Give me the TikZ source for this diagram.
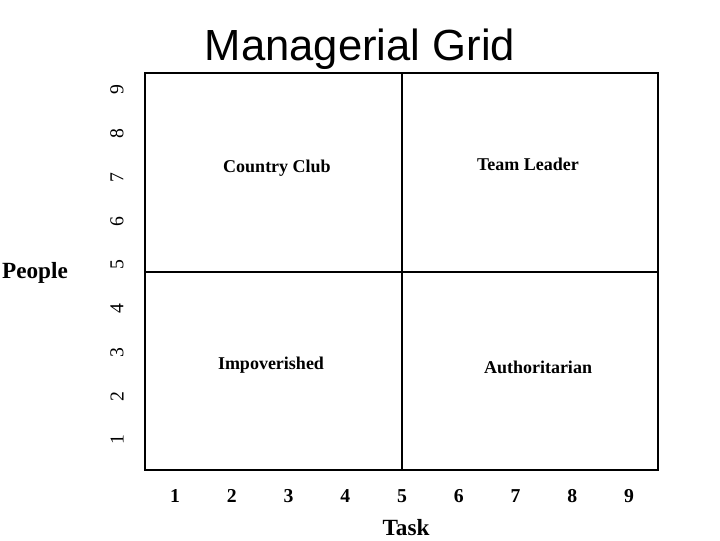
\documentclass[tikz,border=0pt]{standalone}
\usepackage{fontspec}
\setmainfont{Liberation Serif}
\newfontfamily\titlefont{Liberation Sans}
\usetikzlibrary{positioning}

\tikzset{
    gridline/.style={line width=1.4pt},
    celllabel/.style={font=\bfseries\fontsize{12.8}{14}\selectfont},
    ticklabel/.style={font=\bfseries\fontsize{14}{16}\selectfont},
    axislabel/.style={font=\bfseries\fontsize{16.5}{18}\selectfont}
}

\begin{document}
\begin{tikzpicture}[x=0.025cm,y=-0.025cm]
        \useasboundingbox (0,0) rectangle (720,540);

        % title
        \node[font=\titlefont\fontsize{31}{36}\selectfont] (title) at (360,49) {Managerial Grid};

        % the grid
        \coordinate (sw) at (145,470);
        \coordinate (ne) at (658,73);
        \draw[gridline] (sw) rectangle (ne);
        \draw[gridline] (402,73) -- (402,470);
        \draw[gridline] (145,272) -- (658,272);

        % quadrants
        \node[celllabel] (countryclub) at (277,168) {Country Club};
        \node[celllabel] (teamleader) at (528,164) {Team Leader};
        \node[celllabel] (impoverished) at (271,365) {Impoverished};
        \node[celllabel] (authoritarian) at (538,367) {Authoritarian};

        % axes
        \foreach \i in {1,...,9} {
            \node[ticklabel] (task\i) at ({175+56.75*(\i-1)},496) {\i};
            \node[font=\fontsize{14}{16}\selectfont,rotate=90] (people\i) at (117,{440-43.75*(\i-1)}) {\i};
        }
        \node[axislabel] (task) at (406,528) {Task};
        \node[axislabel] (people) at (35,273) {People};
    \end{tikzpicture}
\end{document}
